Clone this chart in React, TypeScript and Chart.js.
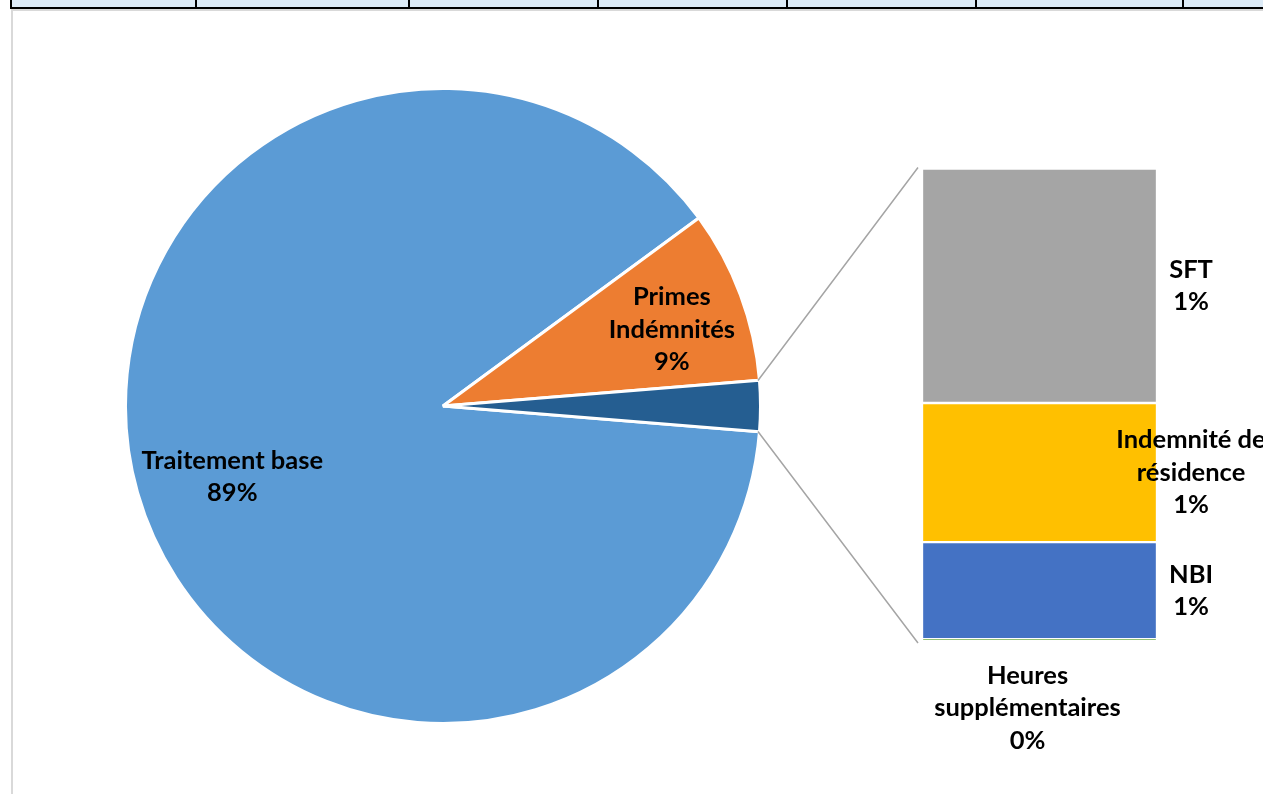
import React, { useEffect, useRef } from 'react';
import { Chart, registerables } from 'chart.js';
Chart.register(...registerables);

// ---------- DATA ----------
const mainCategories = ['Traitement base', 'Primes Indémnités', 'Autre'];
const mainValues = [88.6, 8.8]; // "Autre" = sum of the secondary values
const secondaryCategories = ['Heures supplémentaires', 'NBI', 'Indemnité de résidence', 'SFT'];
const secondaryValues = [0.004, 0.53, 0.76, 1.28];

// ---------- STYLE ----------
const mainColors = ['#5B9BD5', '#ED7D31', '#255E91'];
const secondaryColors = ['#70AD47', '#4472C4', '#FFC000', '#A5A5A5'];
const labelLines: Record<string, string[]> = {
  'Traitement base': ['Traitement base'],
  'Primes Indémnités': ['Primes', 'Indémnités'],
  'Autre': ['Autre'],
  'Heures supplémentaires': ['Heures', 'supplémentaires'],
  'NBI': ['NBI'],
  'Indemnité de résidence': ['Indemnité de', 'résidence'],
  'SFT': ['SFT'],
};
const FONT = 'bold 25.5px Lato, "Open Sans", sans-serif';
const LINE_H = 32.5;
// pie label placement: radius factor and angle adjust (deg)
const pieLabelPlace = [
  { r: 0.70, da: -2.7 },
  { r: 0.76, da: 2.0 },
  { r: 1.118, da: 0.6 },
];
const PIE_BOX = { left: 124, top: 87, size: 638 };
const BAR_BOX = { left: 880, top: 150, width: 420, height: 644 };

const autreValue = secondaryValues.reduce((a, b) => a + b, 0);
const pieData = [...mainValues, autreValue];
const grandTotal = pieData.reduce((a, b) => a + b, 0);
const pct = (v: number) => Math.round((v / grandTotal) * 100) + '%';

function drawLines(ctx: CanvasRenderingContext2D, lines: string[], x: number, y: number) {
  ctx.save();
  ctx.font = FONT;
  ctx.fillStyle = '#000000';
  ctx.textAlign = 'center';
  ctx.textBaseline = 'middle';
  const start = y - ((lines.length - 1) * LINE_H) / 2;
  lines.forEach((l, i) => ctx.fillText(l, x, start + i * LINE_H));
  ctx.restore();
}

const pieLabelPlugin = {
  id: 'pieLabels',
  afterDatasetsDraw(chart: any) {
    const ctx = chart.ctx;
    const meta = chart.getDatasetMeta(0);
    meta.data.forEach((arc: any, i: number) => {
      const p = arc.getProps(['x', 'y', 'startAngle', 'endAngle', 'outerRadius'], true);
      const mid = (p.startAngle + p.endAngle) / 2 + (pieLabelPlace[i].da * Math.PI) / 180;
      const rr = p.outerRadius * pieLabelPlace[i].r;
      const cx = p.x + Math.cos(mid) * rr;
      const cy = p.y + Math.sin(mid) * rr;
      drawLines(ctx, [...labelLines[mainCategories[i]], pct(pieData[i])], cx, cy);
    });
  },
};

const barLabelPlugin = {
  id: 'barLabels',
  afterDatasetsDraw(chart: any) {
    const ctx = chart.ctx;
    secondaryCategories.forEach((cat, i) => {
      const el: any = chart.getDatasetMeta(i).data[0];
      const p = el.getProps(['x', 'y', 'base', 'width'], true);
      const lines = [...labelLines[cat], pct(secondaryValues[i])];
      const segH = Math.abs(p.base - p.y);
      if (segH < 10) {
        drawLines(ctx, lines, p.x - 12, p.base + 68);
      } else {
        drawLines(ctx, lines, p.x + p.width / 2 + 34, (p.y + p.base) / 2);
      }
    });
  },
};

export default function App() {
  const pieRef = useRef<HTMLCanvasElement>(null);
  const barRef = useRef<HTMLCanvasElement>(null);
  const overRef = useRef<HTMLCanvasElement>(null);

  useEffect(() => {
    const pie = new Chart(pieRef.current!, {
      type: 'pie',
      data: {
        labels: mainCategories,
        datasets: [
          {
            data: pieData,
            backgroundColor: mainColors,
            borderColor: '#FFFFFF',
            borderWidth: 3,
            hoverOffset: 0,
          },
        ],
      },
      options: {
        responsive: false,
        maintainAspectRatio: false,
        animation: false,
        events: [],
        rotation: 90 + ((autreValue / grandTotal) * 360) / 2,
        layout: { padding: 0 },
        plugins: { legend: { display: false }, tooltip: { enabled: false } },
      },
      plugins: [pieLabelPlugin],
    } as any);

    const bar = new Chart(barRef.current!, {
      type: 'bar',
      data: {
        labels: ['Autre'],
        datasets: secondaryCategories.map((c, i) => ({
          label: c,
          data: [secondaryValues[i]],
          backgroundColor: secondaryColors[i],
          borderColor: '#FFFFFF',
          borderWidth: 1.5,
          borderSkipped: false,
          barPercentage: 1,
          categoryPercentage: 1,
        })),
      },
      options: {
        responsive: false,
        maintainAspectRatio: false,
        animation: false,
        events: [],
        layout: { padding: { left: 42, right: 143, top: 18.5, bottom: 154 } },
        scales: {
          x: { display: false, stacked: true },
          y: { display: false, stacked: true, min: 0, max: autreValue, grace: 0 },
        },
        plugins: { legend: { display: false }, tooltip: { enabled: false } },
      },
      plugins: [barLabelPlugin],
    } as any);

    // connector lines
    const oc = overRef.current!;
    const octx = oc.getContext('2d')!;
    octx.clearRect(0, 0, oc.width, oc.height);
    const arc: any = pie.getDatasetMeta(0).data[2];
    const a = arc.getProps(['x', 'y', 'startAngle', 'endAngle', 'outerRadius'], true);
    const topEl: any = bar.getDatasetMeta(secondaryCategories.length - 1).data[0];
    const botEl: any = bar.getDatasetMeta(0).data[0];
    const t = topEl.getProps(['x', 'y', 'width'], true);
    const b = botEl.getProps(['x', 'base', 'width'], true);
    const r = a.outerRadius - 1.5;
    const p1 = { x: PIE_BOX.left + a.x + Math.cos(a.startAngle) * r, y: PIE_BOX.top + a.y + Math.sin(a.startAngle) * r };
    const p2 = { x: PIE_BOX.left + a.x + Math.cos(a.endAngle) * r, y: PIE_BOX.top + a.y + Math.sin(a.endAngle) * r };
    const q1 = { x: BAR_BOX.left + t.x - t.width / 2 - 4, y: BAR_BOX.top + t.y - 1 };
    const q2 = { x: BAR_BOX.left + b.x - b.width / 2 - 4, y: BAR_BOX.top + b.base + 3 };
    octx.strokeStyle = '#A5A5A5';
    octx.lineWidth = 1.5;
    octx.beginPath();
    octx.moveTo(p1.x, p1.y);
    octx.lineTo(q1.x, q1.y);
    octx.moveTo(p2.x, p2.y);
    octx.lineTo(q2.x, q2.y);
    octx.stroke();

    return () => {
      pie.destroy();
      bar.destroy();
    };
  }, []);

  const dividers = [10, 195, 408, 597, 786, 975, 1182];

  return (
    <div
      style={{
        position: 'absolute',
        left: 0,
        top: 0,
        width: 1263,
        height: 794,
        overflow: 'hidden',
        background: '#FFFFFF',
      }}
    >
      {/* spreadsheet header row */}
      <div style={{ position: 'absolute', left: 10, top: 0, width: 1300, height: 7, background: '#DDEBF7' }} />
      <div style={{ position: 'absolute', left: 10, top: 7, width: 1300, height: 2, background: '#000000' }} />
      {dividers.map((x) => (
        <div key={x} style={{ position: 'absolute', left: x, top: 0, width: 2, height: 9, background: '#000000' }} />
      ))}
      {/* chart frame */}
      <div style={{ position: 'absolute', left: 11, top: 9, width: 1300, height: 2, background: '#D9D9D9' }} />
      <div style={{ position: 'absolute', left: 11, top: 9, width: 2, height: 800, background: '#D9D9D9' }} />

      <canvas
        ref={pieRef}
        width={PIE_BOX.size}
        height={PIE_BOX.size}
        style={{ position: 'absolute', left: PIE_BOX.left, top: PIE_BOX.top, width: PIE_BOX.size, height: PIE_BOX.size }}
      />
      <canvas
        ref={barRef}
        width={BAR_BOX.width}
        height={BAR_BOX.height}
        style={{ position: 'absolute', left: BAR_BOX.left, top: BAR_BOX.top, width: BAR_BOX.width, height: BAR_BOX.height }}
      />
      <canvas
        ref={overRef}
        width={1263}
        height={794}
        style={{ position: 'absolute', left: 0, top: 0, width: 1263, height: 794, pointerEvents: 'none' }}
      />
    </div>
  );
}
